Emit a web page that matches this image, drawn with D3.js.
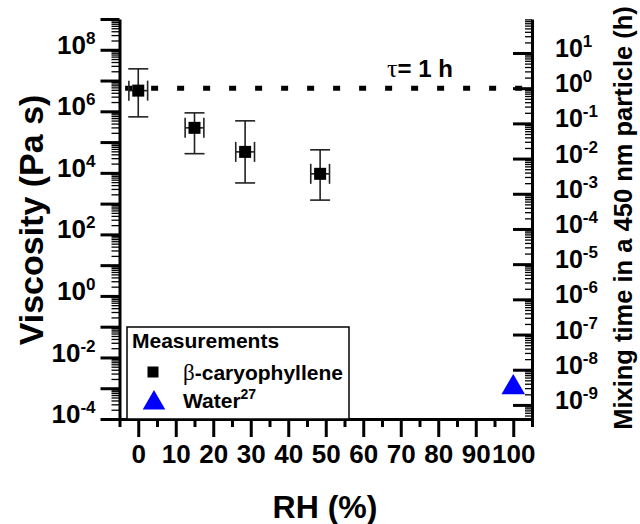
<!DOCTYPE html>
<html>
<head>
<meta charset="utf-8">
<script src="https://cdn.jsdelivr.net/npm/d3@7"></script>
<style>
  body { margin: 0; background: #fff; }
  svg { display: block; font-family: "Liberation Sans", Arial, sans-serif; font-weight: bold; }
</style>
</head>
<body>
<svg></svg>
<script>
// RH vs viscosity, with mixing-time axis on the right

const width = 640;
const height = 524;

// data
const rh = [0, 15, 28.5, 48.5];
const rhErr = [2.5, 2.5, 2.5, 2.5];
const visc = [4.7e6, 2.9e5, 4.8e4, 9.3e3];
const viscHi = [2.4e7, 8.9e5, 4.9e5, 5.6e4];
const viscLo = [6.6e5, 4.2e4, 4.7e3, 1.3e3];
const waterRh = [100];
const waterVisc = [1.05e-3];
const tauRh = [-3.5, 105];
const tauVal = [1, 1];

const xMajor = d3.range(0, 101, 10);
const xMinor = d3.range(-5, 106, 10);
const leftExp = d3.range(-4, 10);
const rightExp = d3.range(-9, 2);

const svg = d3.select("svg")
    .attr("width", width)
    .attr("height", height);

const x = d3.scaleLinear().domain([-5, 105]).range([119.5, 532]);
const yL = d3.scaleLog().domain([1e-4, 1e9]).range([419, 19]);
const yR = d3.scaleLog().domain([Math.pow(10, -9.4), Math.pow(10, 1.966)]).range([419, 19]);

function minorTicks(scale, exps) {
    const [lo, hi] = scale.domain();
    const out = [];
    exps.forEach(e => {
        for (let m = 2; m <= 9; m++) {
            const v = m * Math.pow(10, e);
            if (v >= lo && v <= hi) out.push(v);
        }
    });
    return out;
}

function supLabel(textSel, expOf, baseSize, supSize) {
    textSel.each(function(d) {
        const t = d3.select(this);
        const e = expOf(d);
        t.text(null);
        if (e === null) return;
        t.append("tspan").attr("font-size", baseSize).text("10");
        t.append("tspan").attr("font-size", supSize).attr("dy", -10).text(e);
    });
}

// ---- left axis ----
const leftMinor = svg.append("g")
    .attr("transform", "translate(119.5,0)")
    .call(d3.axisLeft(yL).tickValues(minorTicks(yL, d3.range(-4, 9))).tickSize(8).tickFormat(""));
leftMinor.select(".domain").remove();
leftMinor.selectAll("line").attr("stroke-width", 1.3);

const leftAxis = svg.append("g")
    .attr("transform", "translate(119.5,0)")
    .call(d3.axisLeft(yL).tickValues(leftExp.map(e => Math.pow(10, e))).tickSize(19).tickSizeOuter(0).tickPadding(5));
leftAxis.select(".domain").attr("stroke-width", 3);
leftAxis.selectAll("line").attr("stroke-width", 3);
leftAxis.selectAll("text")
    .attr("fill", "#000")
    .attr("dy", "0.36em")
    .call(supLabel, d => {
        const e = Math.round(Math.log10(d));
        return (e % 2 === 0 && e <= 8) ? String(e) : null;
    }, 26, 17);

// ---- right axis ----
const rightMinor = svg.append("g")
    .attr("transform", "translate(532,0)")
    .call(d3.axisRight(yR).tickValues(minorTicks(yR, d3.range(-10, 2))).tickSize(-7).tickFormat(""));
rightMinor.select(".domain").remove();
rightMinor.selectAll("line").attr("stroke-width", 1.3);

const rightAxis = svg.append("g")
    .attr("transform", "translate(532,0)")
    .call(d3.axisRight(yR).tickValues(rightExp.map(e => Math.pow(10, e))).tickSizeInner(-19).tickSizeOuter(0).tickPadding(42));
rightAxis.select(".domain").attr("stroke-width", 3);
rightAxis.selectAll("line").attr("stroke-width", 3);
rightAxis.selectAll("text")
    .attr("fill", "#000")
    .attr("x", 23)
    .attr("dy", "0.36em")
    .call(supLabel, d => String(Math.round(Math.log10(d))), 25, 17);

// ---- x axis ----
const xMinorAxis = svg.append("g")
    .attr("transform", "translate(0,419)")
    .call(d3.axisBottom(x).tickValues(xMinor).tickSize(8).tickFormat(""));
xMinorAxis.select(".domain").remove();
xMinorAxis.selectAll("line").attr("stroke-width", 3);

const xAxis = svg.append("g")
    .attr("transform", "translate(0,419)")
    .call(d3.axisBottom(x).tickValues(xMajor).tickSize(18).tickSizeOuter(0).tickPadding(8));
xAxis.select(".domain").attr("stroke-width", 3);
xAxis.selectAll("line").attr("stroke-width", 3);
xAxis.selectAll("text")
    .attr("fill", "#000")
    .attr("font-size", 26);

// ---- axis titles ----
svg.append("text")
    .attr("transform", "translate(43,220) rotate(-90)")
    .attr("text-anchor", "middle")
    .attr("font-size", 34)
    .text("Viscosity (Pa s)");

svg.append("text")
    .attr("x", 325)
    .attr("y", 518)
    .attr("text-anchor", "middle")
    .attr("font-size", 32)
    .text("RH (%)");

svg.append("text")
    .attr("transform", "translate(632,218) rotate(-90)")
    .attr("text-anchor", "middle")
    .attr("font-size", 25.5)
    .text("Mixing time in a 450 nm particle (h)");

// ---- tau = 1 h line ----
const tauLine = d3.line()
    .x(d => x(d[0]))
    .y(d => yR(d[1]));

svg.append("path")
    .datum(d3.zip(tauRh, tauVal))
    .attr("d", tauLine)
    .attr("fill", "none")
    .attr("stroke", "#000")
    .attr("stroke-width", 5)
    .attr("stroke-dasharray", "7,19");

const tauText = svg.append("text")
    .attr("x", 387)
    .attr("y", 77)
    .attr("font-size", 24);
tauText.append("tspan")
    .attr("font-family", "'Liberation Serif', 'DejaVu Serif', serif")
    .attr("font-weight", "normal")
    .attr("font-size", 26)
    .text("τ");
tauText.append("tspan").text("= 1 h");

// ---- error bars + points ----
const pts = rh.map((r, i) => ({ r: r, re: rhErr[i], v: visc[i], hi: viscHi[i], lo: viscLo[i] }));
const eb = svg.append("g").attr("stroke", "#222").attr("stroke-width", 1.6);

eb.selectAll(".vbar").data(pts).join("line")
    .attr("x1", d => x(d.r)).attr("x2", d => x(d.r))
    .attr("y1", d => yL(d.hi)).attr("y2", d => yL(d.lo));
eb.selectAll(".capHi").data(pts).join("line")
    .attr("x1", d => x(d.r) - 10).attr("x2", d => x(d.r) + 10)
    .attr("y1", d => yL(d.hi)).attr("y2", d => yL(d.hi));
eb.selectAll(".capLo").data(pts).join("line")
    .attr("x1", d => x(d.r) - 10).attr("x2", d => x(d.r) + 10)
    .attr("y1", d => yL(d.lo)).attr("y2", d => yL(d.lo));
eb.selectAll(".hbar").data(pts).join("line")
    .attr("x1", d => x(d.r - d.re)).attr("x2", d => x(d.r + d.re))
    .attr("y1", d => yL(d.v)).attr("y2", d => yL(d.v));
eb.selectAll(".capL").data(pts).join("line")
    .attr("x1", d => x(d.r - d.re)).attr("x2", d => x(d.r - d.re))
    .attr("y1", d => yL(d.v) - 10).attr("y2", d => yL(d.v) + 10);
eb.selectAll(".capR").data(pts).join("line")
    .attr("x1", d => x(d.r + d.re)).attr("x2", d => x(d.r + d.re))
    .attr("y1", d => yL(d.v) - 10).attr("y2", d => yL(d.v) + 10);

svg.append("g").selectAll("rect").data(pts).join("rect")
    .attr("x", d => x(d.r) - 6)
    .attr("y", d => yL(d.v) - 6)
    .attr("width", 12)
    .attr("height", 12)
    .attr("fill", "#000");

const tri = d3.symbol().type(d3.symbolTriangle).size(240);
svg.append("g").selectAll("path").data(waterRh).join("path")
    .attr("transform", (d, i) => `translate(${x(d)},${yL(waterVisc[i])})`)
    .attr("d", tri)
    .attr("fill", "#0000ff");

// ---- legend ----
const lg = svg.append("g");
lg.append("rect")
    .attr("x", 127).attr("y", 327)
    .attr("width", 222).attr("height", 92)
    .attr("fill", "#fff")
    .attr("stroke", "#000")
    .attr("stroke-width", 1.5);
lg.append("text").attr("x", 132).attr("y", 348).attr("font-size", 21).text("Measurements");
lg.append("rect").attr("x", 147.5).attr("y", 366.5).attr("width", 11).attr("height", 11).attr("fill", "#000");
const bt = lg.append("text").attr("x", 183).attr("y", 380).attr("font-size", 21);
bt.append("tspan")
    .attr("font-family", "'Liberation Serif', 'DejaVu Serif', serif")
    .attr("font-weight", "normal")
    .attr("font-size", 23)
    .text("β");
bt.append("tspan").text("-caryophyllene");
lg.append("path")
    .attr("transform", "translate(154,403)")
    .attr("d", d3.symbol().type(d3.symbolTriangle).size(220))
    .attr("fill", "#0000ff");
const wt = lg.append("text").attr("x", 183).attr("y", 408).attr("font-size", 21);
wt.append("tspan").text("Water");
wt.append("tspan").attr("font-size", 14).attr("dy", -9).text("27");
</script>
</body>
</html>
